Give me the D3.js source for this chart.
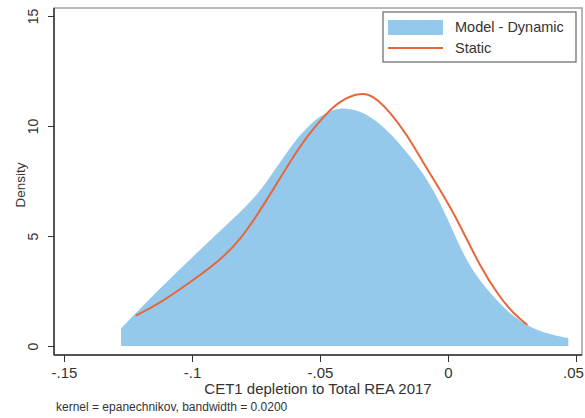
<!DOCTYPE html>
<html>
<head>
<meta charset="utf-8">
<script src="https://cdn.jsdelivr.net/npm/d3@7"></script>
<style>
  body { margin: 0; background: #fff; }
  text { font-family: "Liberation Sans", Arial, sans-serif; fill: #333; }
</style>
</head>
<body>
<svg id="chart" width="585" height="418"></svg>
<script>
// kernel density, model - dynamic (filled)
const dynX = [-.1277, -.119, -.106, -.097, -.088, -.0824, -.075, -.070, -.065, -.060, -.055, -.050, -.045, -.040, -.035, -.030, -.025, -.020, -.015, -.010, -.005, 0, .005, .010, .0164, .0254, .036, .047]
const dynY = [0.8, 1.86, 3.35, 4.35, 5.35, 5.95, 6.8, 7.6, 8.45, 9.3, 9.95, 10.45, 10.75, 10.82, 10.7, 10.4, 9.95, 9.35, 8.65, 7.9, 6.95, 5.75, 4.4, 3.35, 2.4, 1.3, 0.6, 0.36]
// static (line)
const statX = [-.122, -.1125, -.1, -.089, -.081, -.0734, -.0668, -.0605, -.055, -.0473, -.042, -.035, -.0305, -.0277, -.0227, -.016, -.0098, -.0031, .0039, .0125, .0203, .0254, .031]
const statY = [1.38, 1.95, 2.95, 3.9, 4.85, 6.15, 7.4, 8.6, 9.55, 10.6, 11.15, 11.5, 11.42, 11.2, 10.65, 9.6, 8.36, 7.1, 5.7, 3.6, 2.2, 1.5, 0.95]
const xTicks = [-.15, -.1, -.05, 0, .05]
const xTickLabels = ["-.15", "-.1", "-.05", "0", ".05"]
const yTicks = [0, 5, 10, 15]
const seriesNames = ["Model - Dynamic", "Static"]

const svg = d3.select("#chart")
const pLeft = 54, pRight = 582, pTop = 8, pBottom = 355

const x = d3.scaleLinear().domain([-.15, .05]).range([64, 576])
const y = d3.scaleLinear().domain([0, 15]).range([346, 16])

// plot frame
svg.append("rect")
  .attr("x", pLeft).attr("y", pTop)
  .attr("width", pRight - pLeft).attr("height", pBottom - pTop)
  .attr("fill", "none").attr("stroke", "#a0a0a0").attr("stroke-width", 1.5)

const dyn = dynX.map((d, i) => [d, dynY[i]])
const stat = statX.map((d, i) => [d, statY[i]])

svg.append("path")
  .datum(dyn)
  .attr("fill", "#95c9eb")
  .attr("d", d3.area().x(d => x(d[0])).y0(y(0)).y1(d => y(d[1])).curve(d3.curveBasis))

svg.append("path")
  .datum(stat)
  .attr("fill", "none")
  .attr("stroke", "#e6673d")
  .attr("stroke-width", 2)
  .attr("d", d3.line().x(d => x(d[0])).y(d => y(d[1])).curve(d3.curveBasis))

// axes
const xAxis = svg.append("g").attr("transform", `translate(0,${pBottom})`)
  .call(d3.axisBottom(x).tickValues(xTicks).tickFormat((d, i) => xTickLabels[i]).tickSize(7))
xAxis.select(".domain").remove()
xAxis.append("line").attr("x1", pLeft).attr("x2", pRight).attr("stroke", "#333").attr("stroke-width", 1.5)
xAxis.selectAll(".tick line").attr("stroke", "#333")
xAxis.selectAll(".tick text").attr("font-size", 15).attr("fill", "#333")
  .attr("font-family", "Liberation Sans, Arial, sans-serif")
  .attr("dy", null).attr("y", 23)
  .attr("dx", (d, i) => i === xTicks.length - 1 ? -3 : 0)

const yAxis = svg.append("g").attr("transform", `translate(${pLeft},0)`)
  .call(d3.axisLeft(y).tickValues(yTicks).tickSize(6).tickFormat(d3.format("d")))
yAxis.select(".domain").remove()
yAxis.append("line").attr("y1", pTop).attr("y2", pBottom).attr("stroke", "#333").attr("stroke-width", 1.5)
yAxis.selectAll(".tick line").attr("stroke", "#333")
yAxis.selectAll(".tick text")
  .attr("font-size", 14).attr("fill", "#333")
  .attr("font-family", "Liberation Sans, Arial, sans-serif")
  .attr("x", null).attr("dy", null)
  .attr("text-anchor", "middle")
  .attr("transform", "translate(-16,0) rotate(-90)")

// titles
svg.append("text").attr("x", (pLeft + pRight) / 2).attr("y", 394)
  .attr("text-anchor", "middle").attr("font-size", 15)
  .text("CET1 depletion to Total REA 2017")
svg.append("text").attr("transform", "translate(25,185) rotate(-90)")
  .attr("text-anchor", "middle").attr("font-size", 13.5)
  .text("Density")
svg.append("text").attr("x", 56).attr("y", 411).attr("font-size", 12)
  .text("kernel = epanechnikov, bandwidth = 0.0200")

// legend
const lg = svg.append("g")
lg.append("rect").attr("x", 383).attr("y", 12).attr("width", 193).attr("height", 50)
  .attr("fill", "#fff").attr("stroke", "#666").attr("stroke-width", 1.2)
lg.append("rect").attr("x", 388).attr("y", 20).attr("width", 55).attr("height", 15).attr("fill", "#95c9eb")
lg.append("line").attr("x1", 388).attr("x2", 443).attr("y1", 48).attr("y2", 48)
  .attr("stroke", "#e6673d").attr("stroke-width", 2)
lg.selectAll("text.lab").data(seriesNames).join("text")
  .attr("x", 455).attr("y", (d, i) => 32 + i * 21)
  .attr("font-size", 14.5).text(d => d)
</script>
</body>
</html>
